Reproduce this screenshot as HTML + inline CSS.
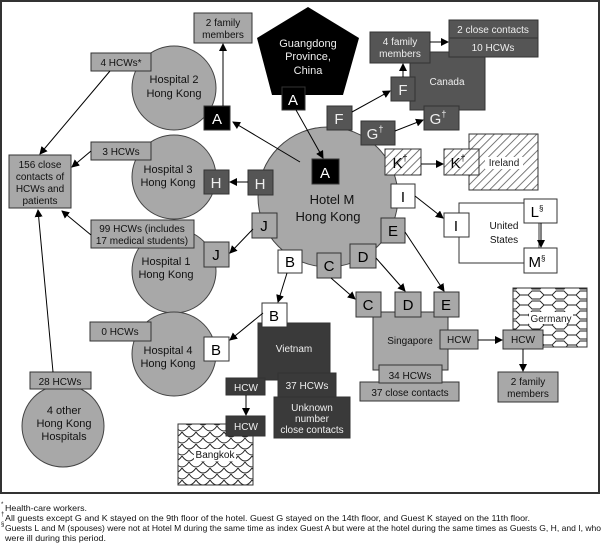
<!DOCTYPE html>
<html><head><meta charset="utf-8"><style>
html,body{margin:0;padding:0;background:#fff}
svg{display:block}
text{font-family:"Liberation Sans",sans-serif}
</style></head><body>
<svg width="602" height="544" viewBox="0 0 602 544" xmlns="http://www.w3.org/2000/svg">
<defs>
<marker id="ar" markerWidth="8" markerHeight="8" refX="7" refY="4" orient="auto" markerUnits="userSpaceOnUse"><path d="M0,0 L8,4 L0,8 z" fill="#000"/></marker>
<pattern id="hatch" width="6" height="6" patternUnits="userSpaceOnUse" patternTransform="rotate(45)"><rect width="6" height="6" fill="#fff"/><line x1="0" y1="0" x2="0" y2="6" stroke="#555" stroke-width="1.6"/></pattern>
<pattern id="scale" width="14" height="12" patternUnits="userSpaceOnUse"><rect width="14" height="12" fill="#fff"/><path d="M0,0 Q7,10 14,0 M-7,6 Q0,16 7,6 M7,6 Q14,16 21,6" fill="none" stroke="#222" stroke-width="1"/></pattern>
<pattern id="hex" width="24" height="10" patternUnits="userSpaceOnUse"><rect width="24" height="10" fill="#fff"/><path d="M0,5 L4,1 L12,1 L16,5 L12,9 L4,9 Z M16,5 L24,5" fill="none" stroke="#222" stroke-width="0.9"/></pattern>
</defs>
<rect x="1" y="1" width="598" height="492" fill="#fff" stroke="#333" stroke-width="2"/>

<g stroke="#444" stroke-width="1">
<circle cx="174" cy="88" r="42" fill="#a8a8a8"/>
<circle cx="174" cy="177" r="42" fill="#a8a8a8"/>
<circle cx="174" cy="271" r="42" fill="#a8a8a8"/>
<circle cx="174" cy="354" r="42" fill="#a8a8a8"/>
<circle cx="63" cy="426" r="41" fill="#a8a8a8"/>
<circle cx="328" cy="197" r="70" fill="#a8a8a8"/>
</g>
<polygon points="308,7 359,38 343,95 272,95 257,38" fill="#000"/>

<g stroke="#333" stroke-width="1">
<rect x="194" y="13" width="58" height="30" fill="#a8a8a8"/>
<rect x="91" y="53" width="60" height="18" fill="#a8a8a8"/>
<rect x="9" y="155" width="62" height="53" fill="#a8a8a8"/>
<rect x="91" y="142" width="60" height="18" fill="#a8a8a8"/>
<rect x="91" y="220" width="103" height="28" fill="#a8a8a8"/>
<rect x="90" y="322" width="61" height="19" fill="#a8a8a8"/>
<rect x="30" y="372" width="61" height="17" fill="#a8a8a8"/>
<rect x="373" y="312" width="75" height="58" fill="#a8a8a8"/>
<rect x="360" y="382" width="99" height="19" fill="#a8a8a8"/>
<rect x="379" y="365" width="63" height="18" fill="#a8a8a8"/>
<rect x="440" y="330" width="38" height="19" fill="#a8a8a8"/>
<rect x="498" y="372" width="60" height="30" fill="#a8a8a8"/>
<rect x="469" y="134" width="69" height="56" fill="url(#hatch)"/>
<rect x="513" y="288" width="74" height="59" fill="url(#hex)"/>
<rect x="178" y="424" width="75" height="61" fill="url(#scale)"/>
<rect x="503" y="330" width="40" height="19" fill="#a8a8a8"/>
<rect x="410" y="52" width="75" height="58" fill="#555"/>
<rect x="370" y="32" width="60" height="31" fill="#555"/>
<rect x="449" y="20" width="89" height="18" fill="#555"/>
<rect x="449" y="38" width="89" height="19" fill="#555"/>
<rect x="258" y="323" width="72" height="57" fill="#3a3a3a"/>
<rect x="226" y="378" width="39" height="17" fill="#3a3a3a"/>
<rect x="278" y="373" width="58" height="24" fill="#3a3a3a"/>
<rect x="274" y="397" width="76" height="41" fill="#3a3a3a"/>
<rect x="226" y="416" width="39" height="20" fill="#3a3a3a"/>
<rect x="459" y="203" width="80" height="60" fill="#fff"/>
</g>
<!-- white label backgrounds in patterns -->
<g fill="#fff">
<rect x="485" y="157" width="38" height="12"/>
<rect x="529" y="312" width="44" height="12"/>
<rect x="194" y="449" width="42" height="12"/>
</g>

<g stroke="#333" stroke-width="1">
<rect x="282" y="87" width="23" height="23" fill="#000"/>
<rect x="204" y="106" width="26" height="24" fill="#000"/>
<rect x="312" y="159" width="27" height="25" fill="#000"/>
<rect x="204" y="170" width="25" height="24" fill="#555"/>
<rect x="248" y="170" width="25" height="25" fill="#555"/>
<rect x="252" y="213" width="25" height="25" fill="#a8a8a8"/>
<rect x="204" y="242" width="25" height="25" fill="#a8a8a8"/>
<rect x="278" y="250" width="24" height="23" fill="#fff"/>
<rect x="317" y="253" width="24" height="25" fill="#a8a8a8"/>
<rect x="350" y="244" width="26" height="24" fill="#a8a8a8"/>
<rect x="381" y="218" width="24" height="25" fill="#a8a8a8"/>
<rect x="391" y="184" width="24" height="24" fill="#fff"/>
<rect x="385" y="149" width="36" height="26" fill="url(#hatch)"/>
<rect x="361" y="121" width="34" height="24" fill="#555"/>
<rect x="327" y="106" width="25" height="24" fill="#555"/>
<rect x="391" y="77" width="24" height="24" fill="#555"/>
<rect x="424" y="106" width="35" height="24" fill="#555"/>
<rect x="444" y="149" width="35" height="26" fill="url(#hatch)"/>
<rect x="444" y="213" width="25" height="24" fill="#fff"/>
<rect x="524" y="199" width="33" height="24" fill="#fff"/>
<rect x="524" y="248" width="33" height="25" fill="#fff"/>
<rect x="262" y="303" width="25" height="24" fill="#fff"/>
<rect x="204" y="337" width="25" height="24" fill="#fff"/>
<rect x="356" y="292" width="25" height="25" fill="#a8a8a8"/>
<rect x="395" y="292" width="26" height="25" fill="#a8a8a8"/>
<rect x="434" y="292" width="25" height="25" fill="#a8a8a8"/>
</g>

<g stroke="#000" stroke-width="1" marker-end="url(#ar)">
<line x1="223" y1="106" x2="223" y2="44"/>
<line x1="300" y1="162" x2="233" y2="122"/>
<line x1="296" y1="110" x2="323" y2="158"/>
<line x1="110" y1="71" x2="40" y2="154"/>
<line x1="91" y1="151" x2="72" y2="167"/>
<line x1="91" y1="235" x2="62" y2="211"/>
<line x1="53" y1="372" x2="38" y2="210"/>
<line x1="248" y1="182" x2="230" y2="182"/>
<line x1="253" y1="229" x2="230" y2="253"/>
<line x1="287" y1="273" x2="278" y2="302"/>
<line x1="263" y1="313" x2="230" y2="340"/>
<line x1="331" y1="278" x2="355" y2="299"/>
<line x1="376" y1="258" x2="405" y2="291"/>
<line x1="405" y1="232" x2="444" y2="291"/>
<line x1="415" y1="196" x2="443" y2="218"/>
<line x1="421" y1="164" x2="443" y2="164"/>
<line x1="352" y1="112" x2="390" y2="91"/>
<line x1="395" y1="131" x2="423" y2="120"/>
<line x1="403" y1="77" x2="403" y2="64"/>
<line x1="430" y1="42" x2="448" y2="42"/>
<line x1="541" y1="223" x2="541" y2="247"/>
<line x1="478" y1="340" x2="502" y2="340"/>
<line x1="523" y1="349" x2="523" y2="371"/>
<line x1="246" y1="395" x2="246" y2="415"/>
</g>

<g font-size="10" text-anchor="middle" fill="#111">
<text x="223" y="26">2 family</text><text x="223" y="38">members</text>
<text x="121" y="66">4 HCWs*</text>
<text x="174" y="83" font-size="11">Hospital 2</text><text x="174" y="97" font-size="11">Hong Kong</text>
<text x="40" y="168">156  close</text><text x="40" y="180">contacts of</text><text x="40" y="192">HCWs and</text><text x="40" y="204">patients</text>
<text x="121" y="155">3 HCWs</text>
<text x="168" y="173" font-size="11">Hospital 3</text><text x="168" y="186" font-size="11">Hong Kong</text>
<text x="142" y="232">99 HCWs (includes</text><text x="142" y="244">17 medical students)</text>
<text x="166" y="265" font-size="11">Hospital 1</text><text x="166" y="278" font-size="11">Hong Kong</text>
<text x="120" y="335">0 HCWs</text>
<text x="168" y="354" font-size="11">Hospital 4</text><text x="168" y="367" font-size="11">Hong Kong</text>
<text x="60" y="385">28 HCWs</text>
<text x="64" y="414" font-size="11">4 other</text><text x="64" y="427" font-size="11">Hong Kong</text><text x="64" y="440" font-size="11">Hospitals</text>
<text x="332" y="204" font-size="13">Hotel M</text><text x="328" y="221" font-size="13">Hong Kong</text>
<text x="504" y="166" fill="#222">Ireland</text>
<text x="504" y="229">United</text><text x="504" y="243">States</text>
<text x="410" y="344">Singapore</text>
<text x="410" y="379">34 HCWs</text>
<text x="410" y="396">37 close contacts</text>
<text x="459" y="343">HCW</text>
<text x="523" y="343">HCW</text>
<text x="551" y="322" fill="#222">Germany</text>
<text x="528" y="385">2 family</text><text x="528" y="397">members</text>
<text x="215" y="458">Bangkok</text>
</g>
<g font-size="10" text-anchor="middle" fill="#eee">
<text x="308" y="47" font-size="11">Guangdong</text><text x="308" y="60" font-size="11">Province,</text><text x="308" y="74" font-size="11">China</text>
<text x="447" y="85">Canada</text>
<text x="400" y="45">4 family</text><text x="400" y="57">members</text>
<text x="493" y="33">2 close contacts</text>
<text x="493" y="51">10 HCWs</text>
<text x="294" y="352">Vietnam</text>
<text x="246" y="391">HCW</text>
<text x="307" y="389">37 HCWs</text>
<text x="312" y="411">Unknown</text><text x="312" y="422">number</text><text x="312" y="433">close contacts</text>
<text x="246" y="430">HCW</text>
</g>
<g font-size="15" text-anchor="middle">
<text x="293" y="105" fill="#fff">A</text>
<text x="217" y="124" fill="#fff">A</text>
<text x="325" y="178" fill="#fff">A</text>
<text x="216" y="188" fill="#eee">H</text>
<text x="260" y="189" fill="#eee">H</text>
<text x="264" y="231">J</text>
<text x="216" y="260">J</text>
<text x="290" y="267">B</text>
<text x="329" y="271">C</text>
<text x="363" y="262">D</text>
<text x="393" y="236">E</text>
<text x="403" y="202">I</text>
<text x="400" y="168">K<tspan font-size="9" dy="-7">†</tspan></text>
<text x="375" y="139" fill="#eee">G<tspan font-size="9" dy="-7">†</tspan></text>
<text x="339" y="124" fill="#eee">F</text>
<text x="403" y="95" fill="#eee">F</text>
<text x="438" y="124" fill="#eee">G<tspan font-size="9" dy="-7">†</tspan></text>
<text x="458" y="168">K<tspan font-size="9" dy="-7">†</tspan></text>
<text x="456" y="231">I</text>
<text x="537" y="217">L<tspan font-size="8" dy="-6">§</tspan></text>
<text x="537" y="267">M<tspan font-size="8" dy="-6">§</tspan></text>
<text x="274" y="321">B</text>
<text x="216" y="355">B</text>
<text x="368" y="310">C</text>
<text x="408" y="310">D</text>
<text x="446" y="310">E</text>
</g>
<g font-size="8.5" fill="#111">
<text x="1" y="506" font-size="6">*</text><text x="5" y="511" textLength="82" lengthAdjust="spacingAndGlyphs">Health-care workers.</text>
<text x="1" y="516" font-size="6">†</text><text x="5" y="521" textLength="525" lengthAdjust="spacingAndGlyphs">All guests except G and K stayed on the 9th floor of the hotel. Guest G stayed on the 14th floor, and Guest K stayed on the 11th floor.</text>
<text x="1" y="526" font-size="6">§</text><text x="5" y="531" textLength="596" lengthAdjust="spacingAndGlyphs">Guests L and M (spouses) were not at Hotel M during the same time as index Guest A but were at the hotel during the same times as Guests G, H, and I, who</text>
<text x="5" y="541" textLength="101" lengthAdjust="spacingAndGlyphs">were ill during this period.</text>
</g>
</svg>
</body></html>
